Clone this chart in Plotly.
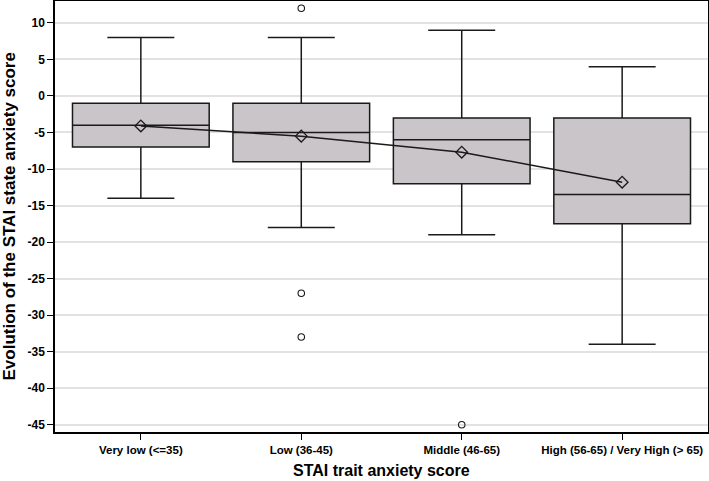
import plotly.graph_objects as go

categories = ["Very low (<=35)", "Low (36-45)", "Middle (46-65)", "High (56-65) / Very High (> 65)"]
lower_whisker = [-14, -18, -19, -34]
q1 = [-7, -9, -12, -17.5]
median = [-4, -5, -6, -13.5]
q3 = [-1, -1, -3, -3]
upper_whisker = [8, 8, 9, 4]
means = [-4.1, -5.5, -7.7, -11.8]
outlier_cat = ["Low (36-45)", "Low (36-45)", "Low (36-45)", "Middle (46-65)"]
outlier_val = [12, -27, -33, -45]
y_ticks = [10, 5, 0, -5, -10, -15, -20, -25, -30, -35, -40, -45]
y_ticktext = [str(v) for v in y_ticks]  # hyphen-minus as in the source

FONT = "Liberation Sans, Arial, sans-serif"
INK = "#1a1a1a"

fig = go.Figure()
fig.add_trace(go.Box(
    x=categories, q1=q1, median=median, q3=q3,
    lowerfence=lower_whisker, upperfence=upper_whisker,
    width=0.852, whiskerwidth=0.49,
    fillcolor="#c9c5c9", line=dict(color=INK, width=1.5),
    boxpoints=False, showlegend=False, hoverinfo="skip",
))
fig.add_trace(go.Scatter(
    x=categories, y=means, mode="lines+markers",
    line=dict(color=INK, width=1.5),
    marker=dict(symbol="diamond-open", size=9, color=INK, line=dict(width=1.3)),
    showlegend=False,
))
fig.add_trace(go.Scatter(
    x=outlier_cat, y=outlier_val, mode="markers",
    marker=dict(symbol="circle-open", size=6.5, color=INK, line=dict(width=1.1)),
    showlegend=False,
))

fig.update_layout(
    width=709, height=481,
    margin=dict(l=55, r=1, t=1, b=49, autoexpand=False),
    paper_bgcolor="white", plot_bgcolor="white",
    font=dict(family=FONT, color="black"),
    annotations=[
        dict(text="<b>STAI trait anxiety score</b>", xref="paper", yref="paper",
             x=0.5, y=-38 / 431, xanchor="center", yanchor="middle", showarrow=False,
             font=dict(size=16, family=FONT, color="black")),
        dict(text="<b>Evolution of the STAI state anxiety score</b>", xref="paper", yref="paper",
             x=-46 / 653, y=0.5, xanchor="center", yanchor="middle", showarrow=False,
             textangle=-90, font=dict(size=17, family=FONT, color="black")),
    ],
)
fig.update_xaxes(
    type="category", range=[-0.535, 3.535], automargin=False,
    showline=True, linecolor="black", linewidth=1.5, mirror=True,
    ticks="outside", ticklen=6, tickcolor="black", tickwidth=1.3,
    tickfont=dict(size=11.5, family=FONT, weight="bold"),
    showgrid=False,
)
fig.update_yaxes(
    range=[-46.0, 13.0], automargin=False,
    tickvals=y_ticks, ticktext=y_ticktext,
    showline=True, linecolor="black", linewidth=1.5, mirror=True,
    ticks="outside", ticklen=6, tickcolor="black", tickwidth=1.3,
    tickfont=dict(size=12, family=FONT, weight="bold"),
    showgrid=True, gridcolor="#e2e2e2", gridwidth=1.5,
    zeroline=False,
)

fig.write_html(
    "out.html",
    config={"displayModeBar": False},
    post_script="document.documentElement.style.margin='0';document.body.style.margin='0';"
                "document.body.style.padding='0';document.body.style.overflow='hidden';",
)
